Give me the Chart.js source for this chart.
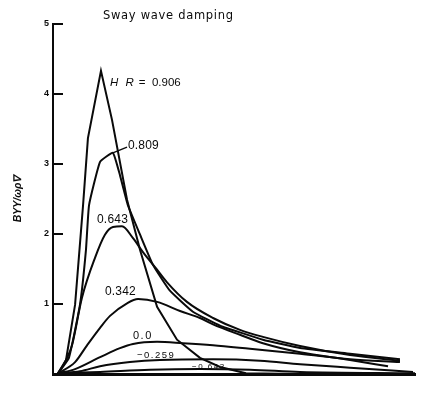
<!DOCTYPE html>
<html>
<head>
<meta charset="utf-8">
<script src="https://cdn.jsdelivr.net/npm/chart.js@4.4.1/dist/chart.umd.min.js"></script>
<style>
  html, body { margin: 0; padding: 0; background: #fff; }
  canvas { display: block; }
</style>
</head>
<body>
<canvas id="c" width="426" height="411"></canvas>
<script>
// Sway wave damping coefficient against frequency, one curve per heading value HR
const chartTitle = 'Sway wave damping';
const yAxisTitle = 'BYY/ωρ∇';
const yTickValues = [1, 2, 3, 4, 5];
const headingLabels = ['0.906', '0.809', '0.643', '0.342', '0.0', '−0.259', '−0.643'];

// [frequency, damping] pairs
const hr0906 = [[0.028,0.01],[0.072,0.20],[0.122,0.99],[0.166,2.41],[0.193,3.37],[0.265,4.33],
  [0.326,3.63],[0.409,2.49],[0.481,1.77],[0.575,0.96],[0.685,0.49],[0.812,0.23],[0.923,0.10],
  [1.066,0.01],[1.365,0.0]];
const hr0809 = [[0.028,0.01],[0.088,0.23],[0.149,0.99],[0.182,1.77],[0.199,2.41],[0.260,3.03],
  [0.331,3.16],[0.370,2.84],[0.414,2.41],[0.481,1.99],[0.552,1.56],[0.646,1.19],[0.773,0.89],
  [0.923,0.69],[1.160,0.49],[1.365,0.37],[1.641,0.29],[1.917,0.21]];
const hr0643 = [[0.028,0.01],[0.072,0.20],[0.105,0.41],[0.160,1.09],[0.232,1.66],[0.287,1.99],
  [0.331,2.10],[0.381,2.11],[0.442,1.94],[0.497,1.74],[0.575,1.49],[0.630,1.31],[0.740,1.03],
  [0.884,0.80],[1.033,0.63],[1.160,0.53],[1.365,0.40],[1.641,0.27],[1.917,0.19]];
const hr0342 = [[0.028,0.01],[0.122,0.17],[0.188,0.41],[0.260,0.66],[0.315,0.83],[0.409,1.01],
  [0.470,1.07],[0.575,1.03],[0.702,0.90],[0.812,0.80],[0.884,0.71],[1.033,0.56],[1.160,0.44],
  [1.365,0.31],[1.641,0.20],[1.851,0.11]];
const hr0000 = [[0.028,0.01],[0.122,0.07],[0.260,0.24],[0.370,0.37],[0.442,0.43],[0.575,0.46],
  [0.718,0.44],[0.884,0.41],[1.088,0.36],[1.365,0.29],[1.641,0.21],[1.917,0.17]];
const hrM0259 = [[0.028,0.01],[0.149,0.04],[0.260,0.11],[0.425,0.17],[0.591,0.20],[0.884,0.21],
  [1.144,0.19],[1.365,0.14],[1.641,0.09],[1.989,0.03]];
const hrM0643 = [[0.028,0.01],[0.260,0.03],[0.536,0.06],[0.812,0.07],[1.088,0.06],[1.365,0.03],
  [2.0,0.01]];

const seriesList = [hr0906, hr0809, hr0643, hr0342, hr0000, hrM0259, hrM0643];

// where each curve's label sits, in axis units
const labelSpots = [
  { x: 0.315, y: 4.16, size: 11.5 },
  { x: 0.414, y: 3.26, size: 12 },
  { x: 0.243, y: 2.21, size: 12 },
  { x: 0.287, y: 1.17, size: 12 },
  { x: 0.442, y: 0.54, size: 11 },
  { x: 0.464, y: 0.27, size: 9.5 },
  { x: 0.768, y: 0.10, size: 8 }
];
const leader0809 = { from: [0.331, 3.16], to: [0.409, 3.24] };

const ink = '#0a0a0a';

const datasets = seriesList.map((pts, i) => ({
  label: headingLabels[i],
  data: pts.map(p => ({ x: p[0], y: p[1] })),
  borderColor: ink,
  borderWidth: 2,
  pointRadius: 0,
  fill: false,
  tension: i === 0 ? 0 : (i === 1 ? 0.12 : 0.4),
  cubicInterpolationMode: i <= 1 ? 'default' : 'monotone'
}));

const decorations = {
  id: 'decorations',
  afterDatasetsDraw(chart) {
    const { ctx, scales: { x, y }, chartArea } = chart;
    ctx.save();
    // inward tick marks on the damping axis
    ctx.strokeStyle = ink;
    ctx.lineWidth = 2;
    yTickValues.forEach(v => {
      const py = Math.round(y.getPixelForValue(v));
      ctx.beginPath();
      ctx.moveTo(chartArea.left, py);
      ctx.lineTo(chartArea.left + 10, py);
      ctx.stroke();
    });

    // leader from the 0.809 peak to its label
    ctx.lineWidth = 1.4;
    ctx.beginPath();
    ctx.moveTo(x.getPixelForValue(leader0809.from[0]), y.getPixelForValue(leader0809.from[1]));
    ctx.lineTo(x.getPixelForValue(leader0809.to[0]), y.getPixelForValue(leader0809.to[1]));
    ctx.stroke();

    // curve labels
    ctx.fillStyle = ink;
    ctx.textBaseline = 'middle';
    ctx.textAlign = 'left';
    headingLabels.forEach((txt, i) => {
      const s = labelSpots[i];
      let px = x.getPixelForValue(s.x);
      const py = y.getPixelForValue(s.y);
      if (i === 0) {
        ctx.font = 'italic ' + s.size + 'px "Liberation Sans", Arial, sans-serif';
        ctx.letterSpacing = '2px';
        ctx.fillText('H R', px, py);
        px += ctx.measureText('H R').width + 3;
        ctx.letterSpacing = '0px';
        ctx.font = s.size + 'px "Liberation Sans", Arial, sans-serif';
        ctx.fillText('=  ' + txt, px, py);
      } else {
        ctx.font = s.size + 'px "Liberation Sans", Arial, sans-serif';
        ctx.letterSpacing = i >= 4 ? '1.5px' : '0.2px';
        ctx.fillText(txt, px, py);
      }
    });

    // heading title
    ctx.font = '500 11.5px "DejaVu Sans", sans-serif';
    ctx.letterSpacing = '0px';
    const w0 = ctx.measureText(chartTitle).width;
    const spacing = Math.max(0, (130 - w0) / (chartTitle.length - 1));
    ctx.letterSpacing = spacing.toFixed(2) + 'px';
    ctx.textAlign = 'left';
    ctx.fillText(chartTitle, 103, 16);
    ctx.restore();
  }
};

new Chart(document.getElementById('c'), {
  type: 'line',
  data: { datasets },
  options: {
    responsive: false,
    devicePixelRatio: 1,
    animation: false,
    layout: { padding: { top: 24, right: 11, bottom: 0, left: 0 } },
    plugins: { legend: { display: false }, tooltip: { enabled: false }, title: { display: false } },
    scales: {
      x: {
        type: 'linear',
        min: 0,
        max: 2,
        grid: { display: true, drawOnChartArea: false, drawTicks: false },
        border: { display: true, color: ink, width: 3 },
        ticks: { display: false },
        afterFit(scale) { scale.height = 37; }
      },
      y: {
        type: 'linear',
        min: 0,
        max: 5,
        grid: { display: true, drawOnChartArea: false, drawTicks: false },
        border: { display: true, color: ink, width: 2 },
        ticks: {
          stepSize: 1,
          color: ink,
          padding: 4,
          font: { family: '"Liberation Sans", Arial, sans-serif', size: 9, weight: 'bold' },
          callback: v => (v === 0 ? '' : String(v))
        },
        title: {
          display: true,
          text: yAxisTitle,
          color: ink,
          padding: { top: 12, bottom: 0 },
          font: { family: '"Liberation Sans", Arial, sans-serif', size: 10.5, weight: 'bold', style: 'italic' }
        },
        afterFit(scale) { scale.width = 53; }
      }
    }
  },
  plugins: [decorations]
});
</script>
</body>
</html>
